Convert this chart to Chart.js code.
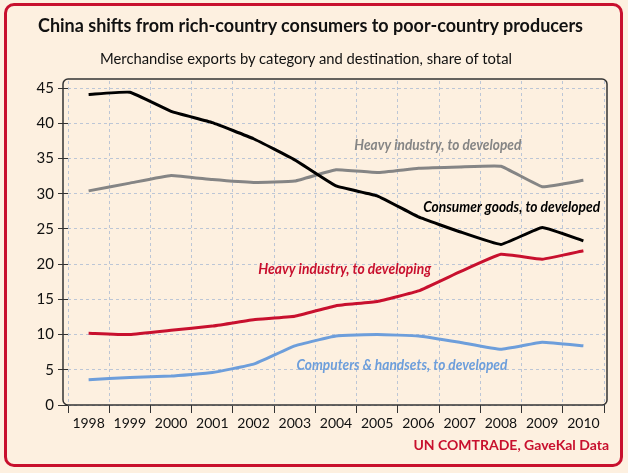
<!DOCTYPE html>
<html lang="en">
<head>
    <meta charset="UTF-8">
    <title>China shifts from rich-country consumers to poor-country producers</title>
    <style>
        body {
            margin: 0;
            width: 628px;
            height: 473px;
            position: relative;
            overflow: hidden;
            background: #fdf0e0;
            font-family: Lato, "Liberation Sans", Arial, sans-serif;
        }
        .card {
            position: absolute;
            left: 4px;
            top: 3px;
            width: 613px;
            height: 458px;
            border: 3px solid #c8102e;
            border-radius: 10px;
            background: #fdf0e0;
        }
        .txt {
            position: absolute;
            white-space: nowrap;
            margin: 0;
        }
        h1 {
            left: 38px;
            top: 13px;
            font-size: 19px;
            font-weight: bold;
            color: #111;
            transform-origin: left top;
        }
        h2 {
            left: 100px;
            top: 48px;
            font-size: 16px;
            font-weight: normal;
            color: #111;
            transform-origin: left top;
        }
        .source {
            right: 19px;
            top: 436px;
            font-size: 14px;
            font-weight: bold;
            color: #c8102e;
        }
        canvas {
            position: absolute;
            left: 0;
            top: 0;
        }
    </style>
</head>
<body>

<div class="card"></div>
<canvas id="grafico" width="628" height="473"></canvas>
<h1 class="txt" id="t1">China shifts from rich-country consumers to poor-country producers</h1>
<h2 class="txt" id="t2">Merchandise exports by category and destination, share of total</h2>
<div class="txt source">UN COMTRADE, GaveKal Data</div>

<script src="https://cdn.jsdelivr.net/npm/chart.js"></script>
<script>
    // years
    const years = ['1998', '1999', '2000', '2001', '2002', '2003', '2004',
                   '2005', '2006', '2007', '2008', '2009', '2010'];

    // share of total, %
    const consumerDeveloped = [44.1, 44.4, 41.7, 40.1, 37.8, 34.8, 31.1, 29.7, 26.7, 24.6, 22.8, 25.2, 23.3];
    const heavyDeveloped    = [30.4, 31.5, 32.6, 32.0, 31.6, 31.8, 33.4, 33.0, 33.6, 33.8, 33.9, 31.0, 31.9];
    const heavyDeveloping   = [10.2, 10.0, 10.6, 11.2, 12.1, 12.6, 14.1, 14.7, 16.2, 18.9, 21.4, 20.7, 21.9];
    const computersDeveloped = [3.6, 3.9, 4.1, 4.6, 5.8, 8.4, 9.8, 10.0, 9.8, 8.9, 7.9, 8.9, 8.4];

    const seriesNames = ['Consumer goods, to developed', 'Heavy industry, to developed',
                         'Heavy industry, to developing', 'Computers & handsets, to developed'];

    const yTicks = [0, 5, 10, 15, 20, 25, 30, 35, 40, 45];

    const colors = ['#000000', '#858585', '#c8102e', '#6d9edb'];

    // where the inline labels sit (category index, value)
    const labelSpots = [
        { x: 10.26, y: 28.2 },
        { x: 8.47, y: 36.9 },
        { x: 6.21, y: 19.3 },
        { x: 7.6, y: 5.7 }
    ];
    // widths of the labels in the reference, px
    const labelWidths = [177, 167, 173, 211];

    const fontFamily = 'Lato, "Liberation Sans", Arial, sans-serif';

    // squeeze the header lines to the reference widths
    function fitWidth(id, w) {
        const el = document.getElementById(id);
        const real = el.getBoundingClientRect().width;
        el.style.transform = 'scaleX(' + (w / real) + ')';
    }
    fitWidth('t1', 545);
    fitWidth('t2', 412);

    const plotBox = {
        id: 'plotBox',
        beforeDatasetsDraw(chart) {
            const a = chart.chartArea;
            const ctx = chart.ctx;
            ctx.save();
            ctx.strokeStyle = '#333';
            ctx.lineWidth = 1.5;
            ctx.beginPath();
            ctx.roundRect(a.left - 5, a.top - 2, a.right - a.left + 8, a.bottom - a.top + 2, 5);
            ctx.stroke();
            ctx.restore();
        }
    };

    const inlineLabels = {
        id: 'inlineLabels',
        afterDatasetsDraw(chart) {
            const ctx = chart.ctx;
            const xs = chart.scales.x;
            const ys = chart.scales.y;
            ctx.save();
            ctx.font = 'italic bold 16px ' + fontFamily;
            ctx.textAlign = 'center';
            ctx.textBaseline = 'middle';
            labelSpots.forEach((s, i) => {
                const px = xs.getPixelForValue(s.x);
                const py = ys.getPixelForValue(s.y);
                const k = labelWidths[i] / ctx.measureText(seriesNames[i]).width;
                ctx.save();
                ctx.translate(px, py);
                ctx.scale(k, 1);
                ctx.fillStyle = colors[i];
                ctx.fillText(seriesNames[i], 0, 0);
                ctx.restore();
            });
            ctx.restore();
        }
    };

    const valores = [consumerDeveloped, heavyDeveloped, heavyDeveloping, computersDeveloped];

    new Chart(document.getElementById('grafico').getContext('2d'), {
        type: 'line',
        data: {
            labels: years,
            datasets: valores.map((v, i) => ({
                label: seriesNames[i],
                data: v,
                borderColor: colors[i],
                borderWidth: 3,
                pointRadius: 0,
                tension: 0.1,
                fill: false
            }))
        },
        options: {
            responsive: false,
            animation: false,
            layout: { padding: { left: 0, right: 24, top: 81, bottom: 0 } },
            plugins: {
                legend: { display: false },
                tooltip: { enabled: false }
            },
            scales: {
                x: {
                    offset: true,
                    grid: {
                        offset: true,
                        color: '#bcc6d6',
                        tickColor: '#333',
                        tickLength: 8,
                        tickBorderDash: []
                    },
                    border: { display: false, dash: [3, 3] },
                    ticks: {
                        color: '#111',
                        padding: 2,
                        maxRotation: 0,
                        font: { family: fontFamily, size: 14 }
                    },
                    afterFit(scale) { scale.height = 68; }
                },
                y: {
                    min: 0,
                    max: 46,
                    grid: {
                        color: '#bcc6d6',
                        tickColor: '#333',
                        tickLength: 10,
                        tickBorderDash: []
                    },
                    border: { display: false, dash: [3, 3] },
                    ticks: {
                        color: '#111',
                        padding: 4,
                        font: { family: fontFamily, size: 15 }
                    },
                    afterBuildTicks(axis) {
                        axis.ticks = yTicks.map(v => ({ value: v }));
                    },
                    afterFit(scale) { scale.width = 68; }
                }
            }
        },
        plugins: [plotBox, inlineLabels]
    });
</script>

</body>
</html>
